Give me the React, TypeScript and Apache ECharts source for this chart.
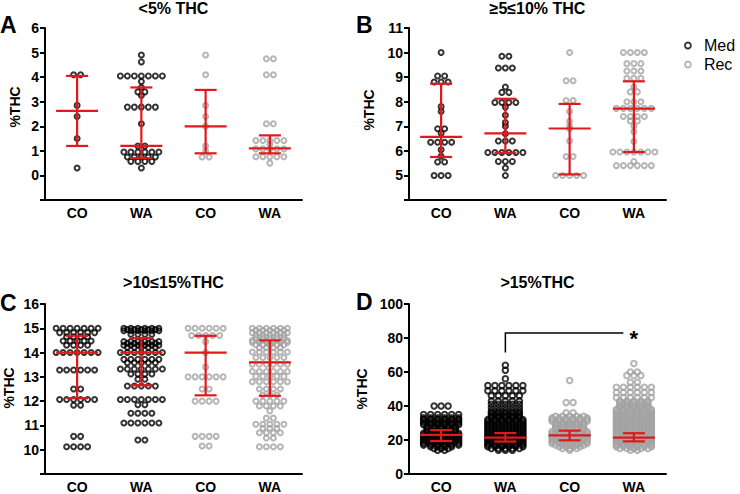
import { useEffect, useRef } from 'react';
import * as echarts from 'echarts';

const FONT = '"Liberation Sans", Arial, Helvetica, sans-serif';
const BLACK = '#000000';
const GRAY = '#a2a2a2';
const RED = '#e0191c';

// ---------- labels ----------
const CATEGORIES = ['CO', 'WA', 'CO', 'WA'];
const LEGEND_NAMES = ['Med', 'Rec'];
const PANEL_TITLES = ['<5% THC', '≥5≤10% THC', '>10≤15%THC', '>15%THC'];
const PANEL_LETTERS = ['A', 'B', 'C', 'D'];
const Y_NAME = '%THC';

// ---------- panel A (<5% THC) : individual values ----------
const A_CO_MED = [4.1, 4.1, 2.85, 2.4, 1.5, 0.3];
const A_WA_MED = [4.9, 4.62, 4.05, 4.05, 4.05, 4.05, 4.05, 4.05, 4.05, 3.82, 3.58, 3.4, 3.4, 3.25,
  2.78, 2.78, 2.78, 2.78, 2.78, 2.1, 1.2, 1.2, 0.95, 0.95, 0.95, 0.95, 0.95, 0.95,
  0.75, 0.75, 0.75, 0.75, 0.75, 0.57, 0.57, 0.57, 0.57, 0.3];
const A_CO_REC = [4.9, 4.1, 2.85, 2.4, 2.0, 1.2, 1.0, 0.75, 0.75];
const A_WA_REC = [4.75, 4.75, 4.1, 4.1, 2.1, 2.1, 1.42, 1.42, 1.42, 1.42, 1.42, 1.27,
  1.08, 1.08, 1.08, 1.08, 1.08, 0.76, 0.76, 0.76, 0.76, 0.76, 0.5];
const A_MEDIAN = [2.63, 1.2, 2.0, 1.1];
const A_Q1 = [1.2, 0.7, 0.9, 0.9];
const A_Q3 = [4.05, 3.58, 3.48, 1.63];

// ---------- panel B (5-10% THC) ----------
const B_CO_MED = [10.0, 9.05, 9.05, 8.8, 8.8, 8.8, 7.8, 7.6, 6.9, 6.9, 6.72, 6.35, 6.35, 6.35, 6.35,
  6.04, 5.78, 5.55, 5.55, 5.0, 5.0, 5.0];
const B_WA_MED = [9.85, 9.85, 9.37, 9.37, 9.37, 8.6, 8.38, 8.38, 7.97, 7.97, 7.97, 7.97, 7.78, 7.45,
  7.15, 7.0, 6.7, 6.4, 6.4, 6.4, 5.93, 5.93, 5.93, 5.93, 5.93, 5.93, 5.57, 5.57, 5.57, 5.3, 5.0];
const B_CO_REC = [10.0, 8.85, 8.85, 8.05, 8.05, 7.6, 7.2, 7.0, 6.9, 6.4, 5.77, 5.77,
  5.0, 5.0, 5.0, 5.0, 5.0];
const B_WA_REC = [10, 10, 10, 10, 9.55, 9.55, 9.55, 9.25, 9.25, 9.25, 8.95, 8.95, 8.95, 8.6, 8.4, 8.4,
  8.0, 8.0, 8.0, 7.73, 7.73, 7.73, 7.73, 7.73, 7.73, 7.4, 7.4, 7.4, 7.4, 7.22, 7.22, 7.0, 6.78, 6.38,
  5.95, 5.95, 5.95, 5.95, 5.95, 5.95, 5.95, 5.57, 5.4, 5.4, 5.4, 5.4, 5.4, 5.4];
const B_MEDIAN = [6.57, 6.71, 6.91, 7.72];
const B_Q1 = [5.75, 5.92, 5.04, 5.95];
const B_Q3 = [8.73, 8.12, 7.91, 8.83];

// ---------- panel C (10-15% THC) ----------
const C_CO_MED = [15, 15, 15, 15, 15, 15, 15, 14.82, 14.82, 14.82, 14.82, 14.82, 14.82,
  14.65, 14.65, 14.65, 14.65, 14.48, 14.48, 14.48, 14.48, 14.48, 14.3, 14.3, 14.3, 14.3,
  14.0, 14.0, 14.0, 14.0, 14.0, 14.0, 14.0, 13.28, 13.28, 13.28, 13.28, 13.28, 13.28,
  12.5, 12.5, 12.07, 12.07, 12.07, 12.07, 12.07, 12.07, 11.83, 11.83, 10.55, 10.55,
  10.12, 10.12, 10.12, 10.12];
const C_WA_MED = [15, 15, 15, 15, 15, 15, 14.95, 14.95, 14.95, 14.95, 14.95,
  14.9, 14.9, 14.9, 14.9, 14.9, 14.9, 14.75, 14.75, 14.75, 14.75,
  14.45, 14.45, 14.45, 14.45, 14.45, 14.45, 14.38, 14.38, 14.38, 14.38, 14.38,
  14.3, 14.3, 14.3, 14.3, 14.3, 14.3, 14.22, 14.22, 14.22, 14.22, 14.22,
  14.0, 14.0, 14.0, 14.0, 14.0, 14.0, 14.0, 13.72, 13.72, 13.72, 13.72, 13.72, 13.72,
  13.58, 13.58, 13.58, 13.58, 13.58, 13.32, 13.32, 13.32, 13.32, 13.32, 13.32, 13.32,
  13.12, 13.12, 13.12, 13.12, 12.9, 12.9, 12.62, 12.62, 12.62, 12.62, 12.62,
  12.07, 12.07, 12.07, 12.07, 12.07, 12.07, 12.07, 11.85, 11.85, 11.5, 11.5, 11.5, 11.5,
  11.1, 11.1, 11.1, 11.1, 11.1, 11.1, 10.4, 10.4];
const C_CO_REC = [15, 15, 15, 15, 15, 15, 14.7, 14.7, 14.7, 14.7, 14.7, 14.45, 14.0, 13.4,
  13.0, 13.0, 13.0, 13.0, 13.0, 13.0, 12.5, 12.5, 12.0, 12.0, 12.0, 12.0,
  10.55, 10.55, 10.55, 10.55, 10.15, 10.15];
const C_WA_REC = [15, 15, 15, 15, 15, 15, 14.92, 14.92, 14.92, 14.92, 14.92,
  14.82, 14.82, 14.82, 14.82, 14.82, 14.82, 14.72, 14.72, 14.72, 14.72, 14.72,
  14.6, 14.6, 14.6, 14.6, 14.6, 14.5, 14.5, 14.5, 14.5, 14.5, 14.5,
  14.42, 14.42, 14.42, 14.42, 14.42, 14.42, 14.32, 14.32, 14.32, 14.32, 14.32,
  14.2, 14.2, 14.2, 14.2, 14.02, 14.02, 14.02, 14.02, 14.02, 14.02,
  13.8, 13.8, 13.8, 13.8, 13.8, 13.52, 13.52, 13.52, 13.52, 13.52, 13.52,
  13.22, 13.22, 13.22, 13.22, 13.22, 13.22, 13.02, 13.02, 13.02, 13.02, 13.02,
  12.8, 12.8, 12.8, 12.8, 12.8, 12.8, 12.5, 12.5, 12.5, 12.5, 12.25, 12.25, 12.25,
  12.0, 12.0, 12.0, 12.0, 12.0, 11.8, 11.8, 11.8, 11.8, 11.6, 11.3, 11.3,
  11.05, 11.05, 11.05, 11.05, 11.05, 10.88, 10.88, 10.88, 10.7, 10.7, 10.7, 10.7,
  10.48, 10.48, 10.12, 10.12, 10.12, 10.12];
const C_MEDIAN = [14.0, 14.0, 14.0, 13.6];
const C_Q1 = [12.12, 12.65, 12.24, 12.22];
const C_Q3 = [14.69, 14.6, 14.69, 14.5];

// ---------- panel D (>15% THC) : value levels and how many samples share each level ----------
const D_CO_MED_LEVELS = [14, 15, 16, 17, 18, 19, 20, 21, 22, 23, 24, 25, 26, 27, 28, 29, 30, 31, 32, 33, 35, 40];
const D_CO_MED_COUNTS = [2, 3, 4, 6, 6, 6, 6, 6, 6, 6, 6, 5, 5, 5, 5, 6, 6, 6, 6, 6, 6, 3];
const D_WA_MED_LEVELS = [14, 15, 16, 17, 18, 19, 20, 21, 22, 23, 24, 25, 26, 27, 28, 29, 30, 31, 32,
  33, 34, 35, 36, 37, 39, 41, 43, 46, 49, 52, 56, 61, 64];
const D_WA_MED_COUNTS = [3, 5, 6, 6, 6, 6, 6, 6, 6, 6, 6, 6, 6, 6, 6, 6, 6, 6, 6,
  5, 5, 5, 5, 5, 5, 5, 5, 5, 6, 6, 1, 1, 1];
const D_CO_REC_LEVELS = [14, 15, 16, 17, 18, 19, 20, 21, 22, 23, 24, 25, 26, 27, 28, 29, 30, 31, 32, 33, 34, 36, 42, 55];
const D_CO_REC_COUNTS = [1, 3, 4, 5, 6, 6, 6, 6, 6, 6, 6, 6, 5, 5, 5, 5, 5, 6, 6, 6, 5, 2, 2, 1];
const D_WA_REC_LEVELS = [14, 15, 16, 17, 18, 19, 20, 21, 22, 23, 24, 25, 26, 27, 28, 29, 30, 31, 32, 33,
  34, 35, 36, 37, 38, 39, 40, 41, 42, 43, 45, 48, 51, 54, 58, 60, 65];
const D_WA_REC_COUNTS = [2, 5, 6, 6, 6, 6, 6, 6, 6, 6, 6, 6, 6, 6, 6, 6, 6, 6, 6, 6,
  6, 6, 6, 6, 6, 5, 5, 5, 5, 5, 6, 6, 6, 2, 3, 2, 1];
const D_MEDIAN = [23.0, 21.4, 22.7, 21.4];
const D_Q1 = [19.4, 19.1, 19.8, 19.2];
const D_Q3 = [25.8, 24.1, 25.5, 24.0];

// significance bracket in D: WA (Med) vs WA (Rec)
const SIG_FROM = 1;
const SIG_TO = 3;
const SIG_BASE = 71.5;
const SIG_TOP = 83;
const SIG_LABEL = '*';

function expandLevels(levels: number[], counts: number[]): number[] {
  const out: number[] = [];
  levels.forEach((lv, i) => {
    for (let k = 0; k < counts[i]; k++) out.push(lv);
  });
  return out;
}

// equal values are laid side by side, centred on the category
function dotRows(values: number[], cat: number, spacing: number) {
  const rows = new Map<number, number>();
  values.forEach((v) => rows.set(v, (rows.get(v) ?? 0) + 1));
  const pts: any[] = [];
  rows.forEach((n, v) => {
    for (let i = 0; i < n; i++) {
      pts.push({ value: [cat, v], symbolOffset: [(i - (n - 1) / 2) * spacing, 0] });
    }
  });
  return pts;
}

const PANELS = [
  {
    groups: [A_CO_MED, A_WA_MED, A_CO_REC, A_WA_REC], median: A_MEDIAN, q1: A_Q1, q3: A_Q3,
    min: -1, max: 6, interval: 1, firstLabel: 0,
    left: 45, top: 28, spacing: 7, size: 5, border: 2,
    titleX: 173.5, titleY: 8, letterX: 0, letterY: 25, nameX: 15, nameY: 107,
  },
  {
    groups: [B_CO_MED, B_WA_MED, B_CO_REC, B_WA_REC], median: B_MEDIAN, q1: B_Q1, q3: B_Q3,
    min: 4, max: 11, interval: 1, firstLabel: 5,
    left: 409, top: 28, spacing: 7, size: 5, border: 2,
    titleX: 537.5, titleY: 8, letterX: 356, letterY: 25, nameX: 369, nameY: 110,
  },
  {
    groups: [C_CO_MED, C_WA_MED, C_CO_REC, C_WA_REC], median: C_MEDIAN, q1: C_Q1, q3: C_Q3,
    min: 9, max: 16, interval: 1, firstLabel: 10,
    left: 45, top: 304, spacing: 7, size: 5, border: 2,
    titleX: 173.5, titleY: 282, letterX: 0, letterY: 303, nameX: 8.5, nameY: 388,
  },
  {
    groups: [
      expandLevels(D_CO_MED_LEVELS, D_CO_MED_COUNTS),
      expandLevels(D_WA_MED_LEVELS, D_WA_MED_COUNTS),
      expandLevels(D_CO_REC_LEVELS, D_CO_REC_COUNTS),
      expandLevels(D_WA_REC_LEVELS, D_WA_REC_COUNTS),
    ],
    median: D_MEDIAN, q1: D_Q1, q3: D_Q3,
    min: 0, max: 100, interval: 20, firstLabel: 0,
    left: 409, top: 304, spacing: 7, size: 5.5, border: 2,
    titleX: 537.5, titleY: 282, letterX: 356, letterY: 302, nameX: 362, nameY: 389,
  },
];

const GRID_W = 257;
const GRID_H = 172;

function buildOption() {
  const grid: any[] = [];
  const xAxis: any[] = [];
  const yAxis: any[] = [];
  const series: any[] = [];
  const graphic: any[] = [];

  PANELS.forEach((p, k) => {
    grid.push({ left: p.left, top: p.top, width: GRID_W, height: GRID_H, containLabel: false });
    xAxis.push({
      type: 'category', gridIndex: k, data: CATEGORIES,
      axisLine: { onZero: false, lineStyle: { color: BLACK, width: 2 } },
      axisTick: { show: false },
      axisLabel: { color: BLACK, fontFamily: FONT, fontWeight: 'bold', fontSize: 14, margin: 6 },
      splitLine: { show: false },
    });
    yAxis.push({
      type: 'value', gridIndex: k, min: p.min, max: p.max, interval: p.interval,
      axisLine: { show: true, lineStyle: { color: BLACK, width: 2 } },
      axisTick: { show: true, length: 5, lineStyle: { color: BLACK, width: 2 } },
      axisLabel: {
        color: BLACK, fontFamily: FONT, fontWeight: 'bold', fontSize: 14, margin: 6,
        formatter: (v: number) => (v < p.firstLabel ? '' : String(v)),
      },
      splitLine: { show: false },
    });

    p.groups.forEach((vals, g) => {
      const isRec = g >= 2;
      series.push({
        type: 'scatter', name: LEGEND_NAMES[isRec ? 1 : 0], xAxisIndex: k, yAxisIndex: k,
        symbol: 'circle', symbolSize: p.size, silent: true, z: 2,
        itemStyle: { color: 'rgba(0,0,0,0)', borderColor: isRec ? GRAY : BLACK, borderWidth: p.border },
        emphasis: { disabled: true },
        data: dotRows(vals, g, p.spacing),
      });
    });

    series.push({
      type: 'custom', xAxisIndex: k, yAxisIndex: k, silent: true, z: 5,
      data: CATEGORIES.map((_, i) => [i, p.median[i], p.q1[i], p.q3[i]]),
      encode: { x: 0, y: [1, 2, 3] },
      renderItem: (_params: any, api: any) => {
        const x = api.value(0);
        const m = api.coord([x, api.value(1)]);
        const lo = api.coord([x, api.value(2)]);
        const hi = api.coord([x, api.value(3)]);
        const st = { stroke: RED, lineWidth: 2.2 };
        return {
          type: 'group',
          children: [
            { type: 'line', shape: { x1: m[0], y1: hi[1], x2: m[0], y2: lo[1] }, style: st },
            { type: 'line', shape: { x1: m[0] - 21, y1: m[1], x2: m[0] + 21, y2: m[1] }, style: st },
            { type: 'line', shape: { x1: m[0] - 11, y1: hi[1], x2: m[0] + 11, y2: hi[1] }, style: st },
            { type: 'line', shape: { x1: m[0] - 11, y1: lo[1], x2: m[0] + 11, y2: lo[1] }, style: st },
          ],
        };
      },
    });

    graphic.push({
      type: 'text', x: p.titleX, y: p.titleY, silent: true,
      style: { text: PANEL_TITLES[k], fill: BLACK, font: `bold 16px ${FONT}`, textAlign: 'center', textVerticalAlign: 'middle' },
    });
    graphic.push({
      type: 'text', x: p.letterX, y: p.letterY, silent: true,
      style: { text: PANEL_LETTERS[k], fill: BLACK, font: `bold 23px ${FONT}`, textAlign: 'left', textVerticalAlign: 'middle' },
    });
    graphic.push({
      type: 'text', x: p.nameX, y: p.nameY, rotation: Math.PI / 2, silent: true,
      style: { text: Y_NAME, fill: BLACK, font: `bold 14px ${FONT}`, textAlign: 'center', textVerticalAlign: 'middle' },
    });
  });

  series.push({
    type: 'custom', xAxisIndex: 3, yAxisIndex: 3, silent: true, z: 6,
    data: [[SIG_FROM, SIG_TO, SIG_BASE, SIG_TOP]],
    encode: { x: [0, 1], y: [2, 3] },
    renderItem: (_params: any, api: any) => {
      const a = api.coord([api.value(0), api.value(2)]);
      const b = api.coord([api.value(0), api.value(3)]);
      const c = api.coord([api.value(1), api.value(3)]);
      return {
        type: 'group',
        children: [
          {
            type: 'polyline',
            shape: { points: [[a[0], a[1]], [b[0], b[1]], [c[0] - 10.5, c[1]]] },
            style: { stroke: BLACK, lineWidth: 1.5, fill: null },
          },
          {
            type: 'text', x: c[0], y: c[1] + 6,
            style: { text: SIG_LABEL, fill: BLACK, font: `bold 22px ${FONT}`, textAlign: 'center', textVerticalAlign: 'middle' },
          },
        ],
      };
    },
  });

  return {
    animation: false,
    backgroundColor: '#ffffff',
    grid, xAxis, yAxis, series, graphic,
    legend: {
      data: LEGEND_NAMES, orient: 'vertical', left: 679, top: 31,
      itemWidth: 22, itemHeight: 6, itemGap: 0, icon: 'circle', selectedMode: false,
      itemStyle: { color: 'rgba(0,0,0,0)', borderWidth: 1.8 },
      textStyle: { color: BLACK, fontFamily: FONT, fontSize: 16, lineHeight: 19 },
    },
  };
}

export default function App() {
  const ref = useRef<HTMLDivElement>(null);
  useEffect(() => {
    const chart = echarts.init(ref.current as HTMLDivElement, null, { renderer: 'svg' });
    chart.setOption(buildOption() as any);
    return () => chart.dispose();
  }, []);
  return (
    <div
      ref={ref}
      style={{ position: 'absolute', left: 0, top: 0, width: 740, height: 494, background: '#fff' }}
    />
  );
}
